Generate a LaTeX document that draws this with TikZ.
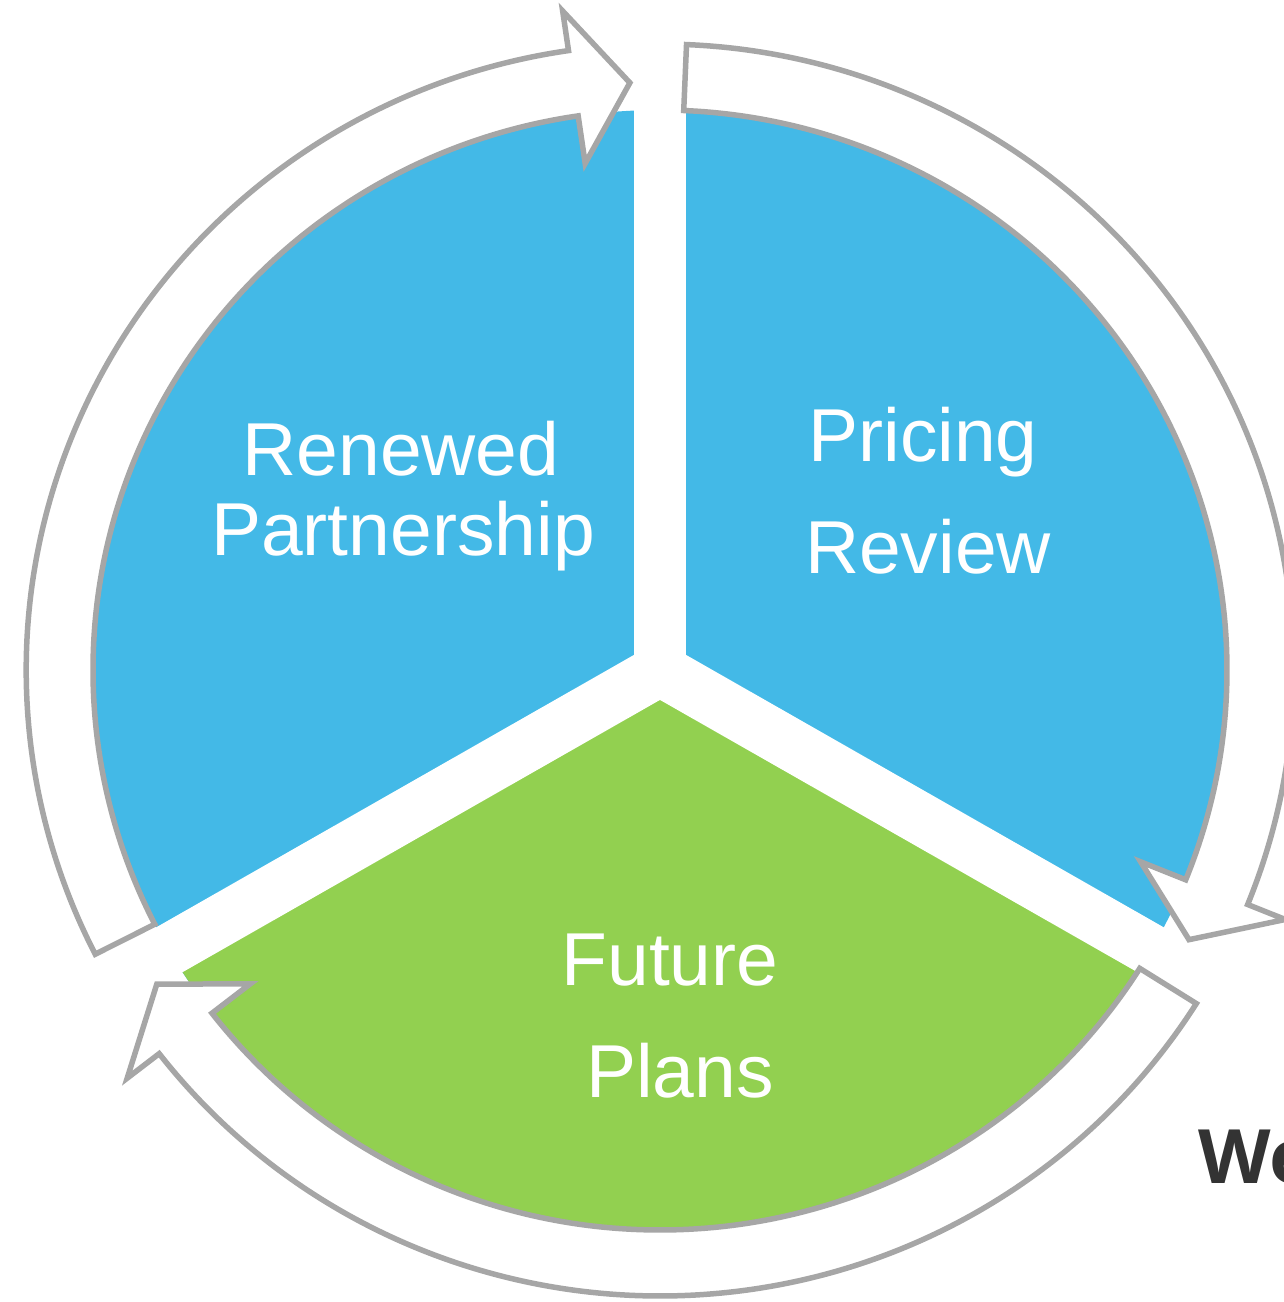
\documentclass[tikz,border=0pt]{standalone}
\usepackage{fontspec}
\setmainfont{Liberation Sans}
\newfontfamily\wefont{Open Sans}
\definecolor{cycblue}{HTML}{43B9E7}
\definecolor{cycgreen}{HTML}{92D050}
\definecolor{cycgray}{HTML}{A6A6A6}
\definecolor{wegray}{HTML}{333333}
\tikzset{
  divider/.style={white, line width=52pt},
  cyc/.style={draw=cycgray, fill=white, line width=5.5pt},
  lbl/.style={text=white, anchor=base, inner sep=0pt, font=\fontsize{75}{80}\selectfont},
}
% arrow on the ring: tail angle, head base angle, tip angle
\newcommand{\cyclearrow}[3]{%
  \draw[cyc] (#1:560) arc[start angle=#1, end angle=#2, radius=560]
    -- (#2:512) -- (#3:588) -- (#2:666) -- (#2:626)
    arc[start angle=#2, end angle=#1, radius=626] -- cycle;}
\begin{document}
\begin{tikzpicture}[x=1.0125pt, y=1pt]
  \useasboundingbox (-660pt,-632pt) rectangle (624pt,670pt);
  \coordinate (O) at (0,0);
  % sectors
  \fill[cycblue] (O) circle[radius=560];
  \fill[cycgreen] (O) -- (210:560) arc[start angle=210, end angle=330, radius=560] -- cycle;
  \draw[divider] (O) -- (90:700);
  \draw[divider] (O) -- (210:700);
  \draw[divider] (O) -- (330:700);
  % arrows
  \cyclearrow{207}{98.3}{92.9}
  \cyclearrow{87.6}{-22}{-27.3}
  \cyclearrow{-32.2}{-142.2}{-147.7}
  % labels
  \node[lbl] (renew) at (-259pt,195pt) {Renewed};
  \node[lbl] (partner) at (-257pt,115pt) {Partnership};
  \node[lbl] (pricing) at (263pt,208pt) {Pricing};
  \node[lbl] (review) at (268pt,97pt) {Review};
  \node[lbl] (future) at (10pt,-315pt) {Future};
  \node[lbl] (plans) at (20pt,-427pt) {Plans};
  \node[anchor=base west, inner sep=0pt, text=wegray, font=\wefont\bfseries\fontsize{75}{75}\selectfont] (we) at (538pt,-513pt) {We};
\end{tikzpicture}
\end{document}
